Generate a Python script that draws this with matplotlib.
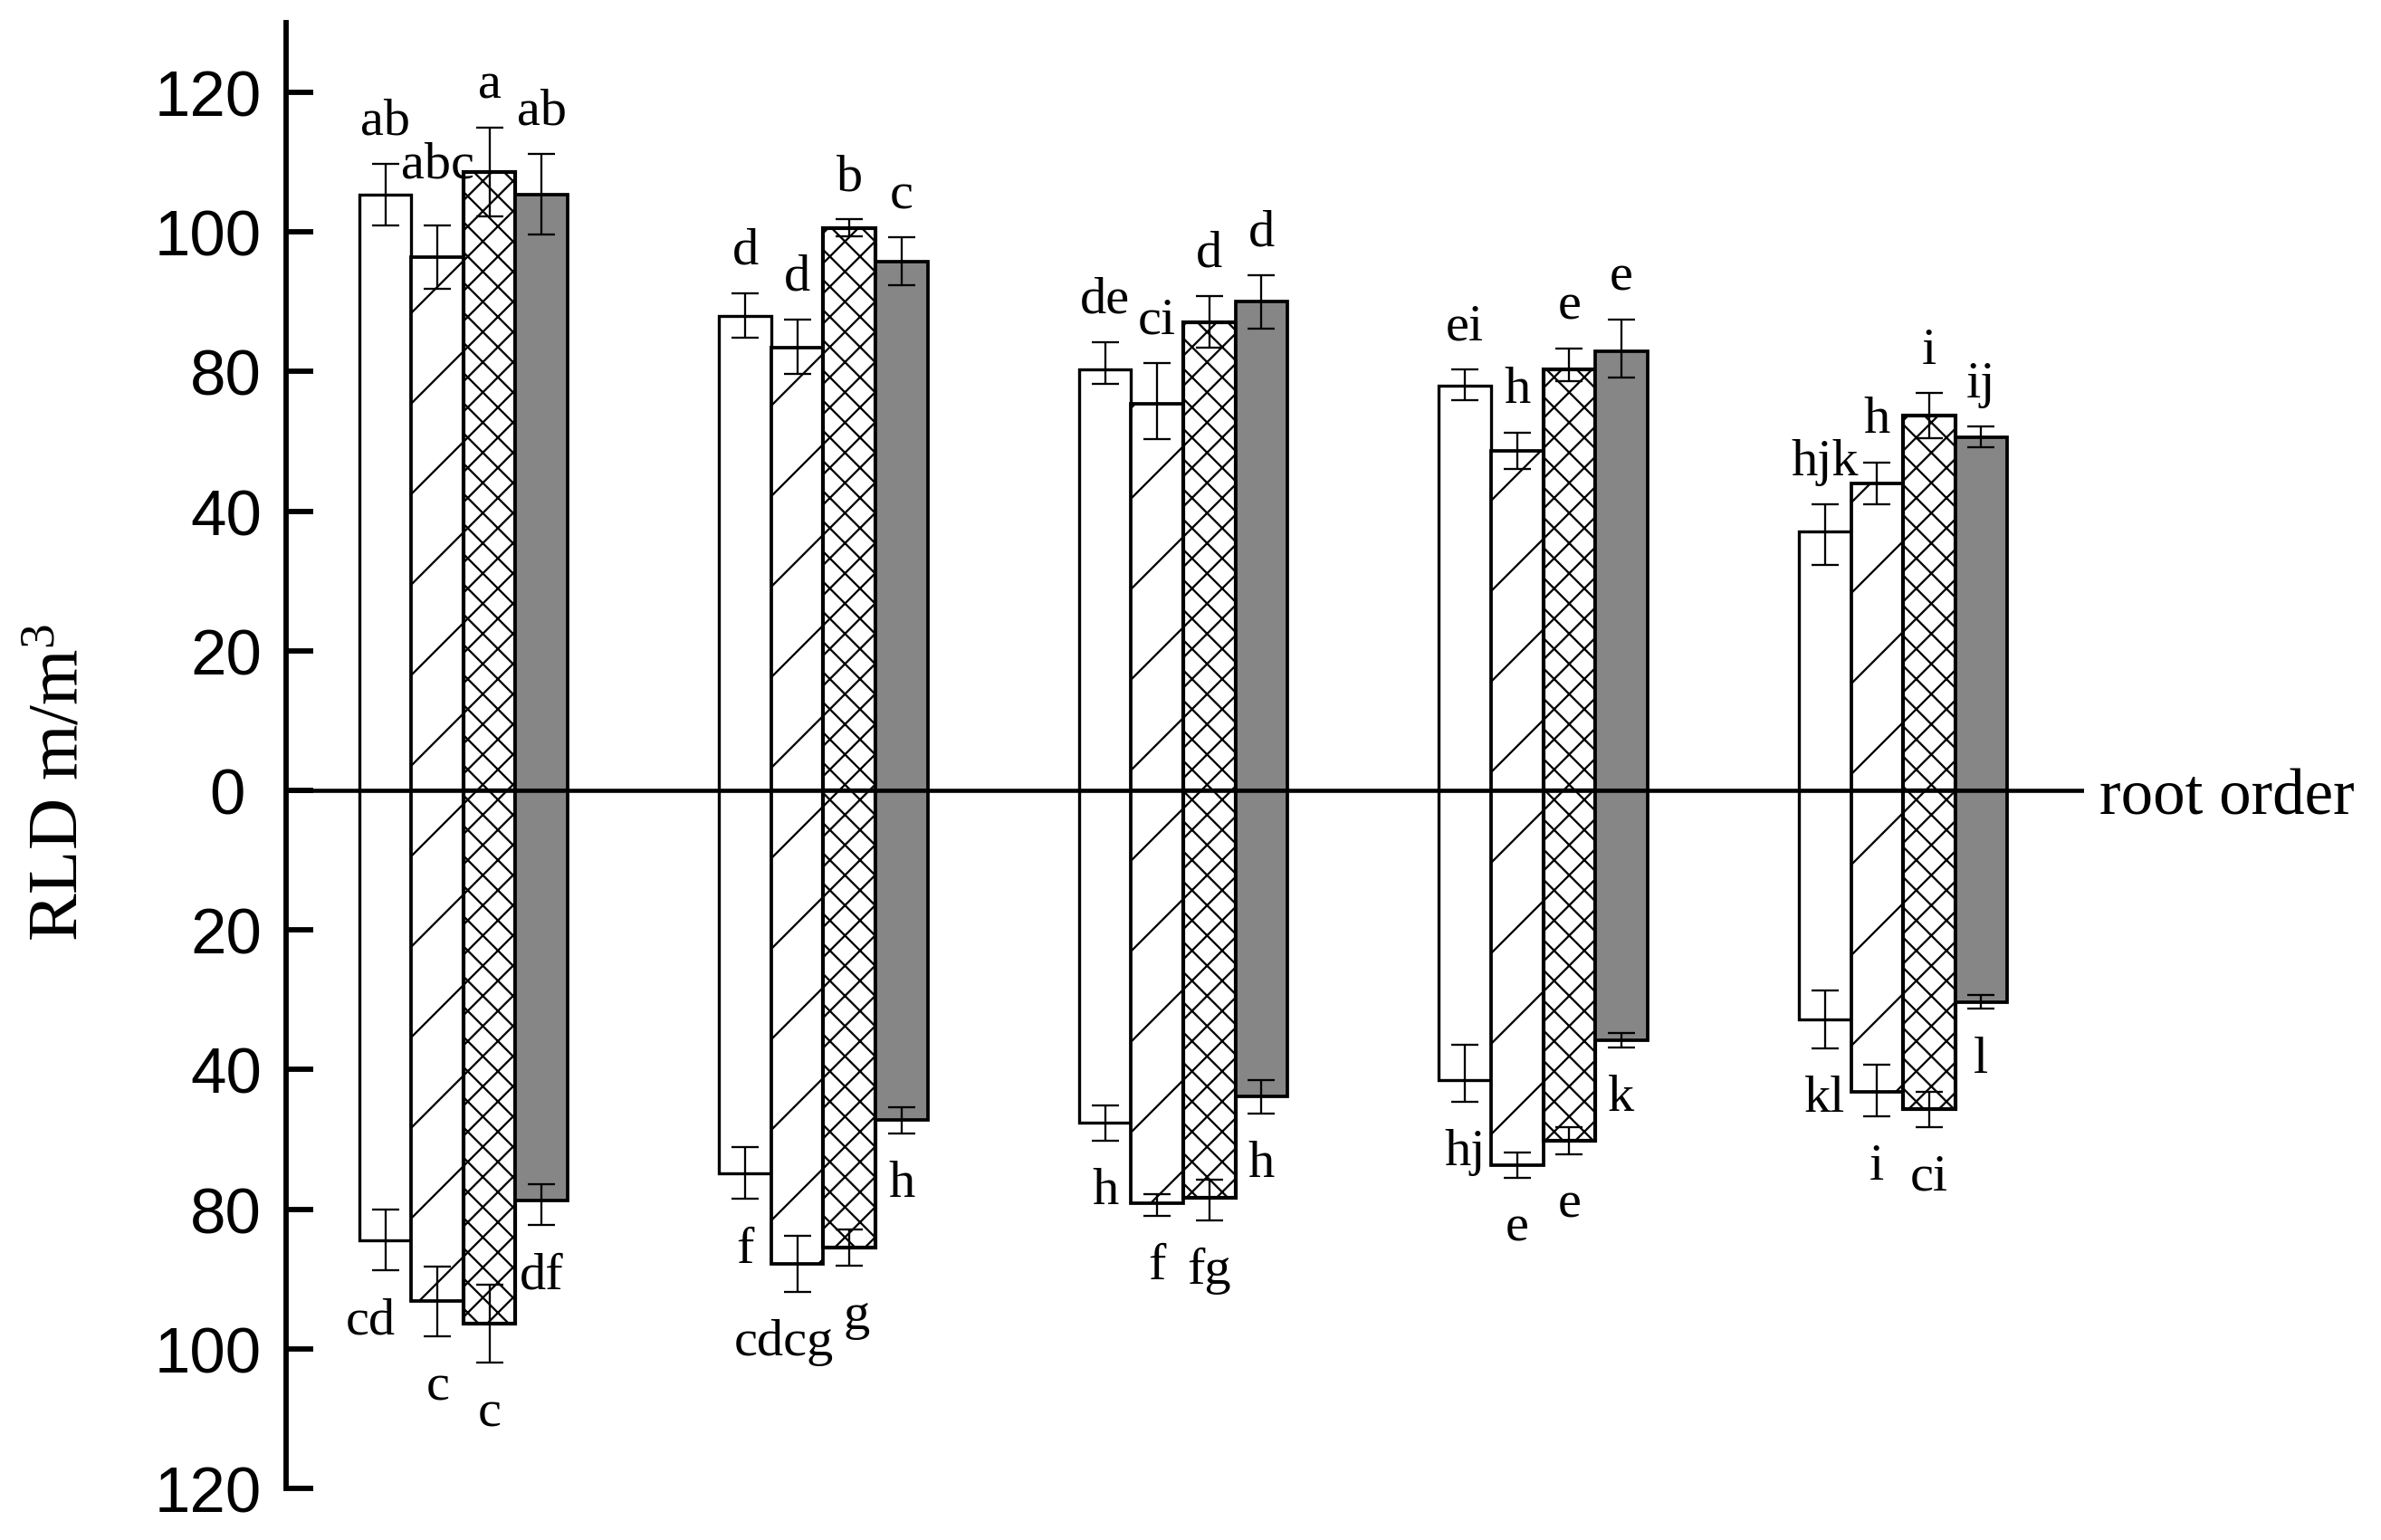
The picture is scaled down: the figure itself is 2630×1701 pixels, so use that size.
import numpy as np
import matplotlib
matplotlib.use('Agg')
import matplotlib.pyplot as plt
import matplotlib.transforms as mtransforms

# ---------------- data ----------------
root_orders = [1, 2, 3, 4, 5]
treatments = ['T1', 'T2', 'T3', 'T4']

# upper half (values as read against the printed tick labels)
white_up = [105.4, 88.0, 80.3, 76.1, 37.1]
hatch_up = [96.4, 83.4, 70.9, 57.4, 48.0]
cross_up = [108.6, 100.6, 87.1, 80.3, 67.3]
gray_up = [105.4, 95.8, 90.0, 82.9, 61.3]

white_up_err = [4.4, 3.2, 3.9, 4.2, 4.8]
hatch_up_err = [4.5, 4.1, 10.3, 5.2, 6.0]
cross_up_err = [6.4, 1.2, 3.7, 3.0, 6.5]
gray_up_err = [5.8, 3.4, 3.8, 4.6, 2.9]

# lower half (magnitudes, drawn downward)
white_lo = [84.4, 69.7, 55.3, 42.9, 32.8]
hatch_lo = [93.2, 87.8, 78.4, 67.3, 46.3]
cross_lo = [96.4, 85.5, 76.6, 60.4, 51.4]
gray_lo = [77.6, 54.5, 47.8, 35.8, 30.3]

white_lo_err = [4.4, 7.4, 5.0, 6.4, 4.2]
hatch_lo_err = [5.0, 4.0, 2.6, 3.6, 7.0]
cross_lo_err = [5.6, 2.6, 5.0, 3.8, 5.0]
gray_lo_err = [4.7, 3.7, 4.7, 1.0, 1.0]

white_up_lbl = ['ab', 'd', 'de', 'ei', 'hjk']
hatch_up_lbl = ['abc', 'd', 'ci', 'h', 'h']
cross_up_lbl = ['a', 'b', 'd', 'e', 'i']
gray_up_lbl = ['ab', 'c', 'd', 'e', 'ij']

white_lo_lbl = ['cd', 'f', 'h', 'hj', 'kl']
hatch_lo_lbl = ['c', 'cdcg', 'f', 'e', 'i']
cross_lo_lbl = ['c', 'g', 'fg', 'e', 'ci']
gray_lo_lbl = ['df', 'h', 'h', 'k', 'l']

# printed tick labels (the axis is evenly spaced between them)
tick_label_values = [0, 20, 40, 80, 100, 120]

# ---------------- figure ----------------
DPI = 300
fig = plt.figure(figsize=(2630 / DPI, 1702 / DPI), dpi=DPI)
plt.rcParams['hatch.linewidth'] = 0.55
plt.rcParams['mathtext.fontset'] = 'custom'
plt.rcParams['mathtext.rm'] = 'Liberation Serif'
plt.rcParams['mathtext.it'] = 'Liberation Serif:italic'
ax = fig.add_axes([316 / 2630, 57 / 1702, (2302 - 316) / 2630, 1619 / 1702])

L = np.array(tick_label_values + [140], dtype=float)
P = np.arange(len(L), dtype=float)


def fwd(v):
    v = np.asarray(v, dtype=float)
    return np.sign(v) * np.interp(np.abs(v), L, P)


def inv(p):
    p = np.asarray(p, dtype=float)
    return np.sign(p) * np.interp(np.abs(p), P, L)


ax.set_yscale('function', functions=(fwd, inv))

x = np.arange(len(root_orders), dtype=float)
w = 0.1447
offsets = np.array([-1.5, -0.5, 0.5, 1.5]) * w

# small manual nudges of letter labels (points): (series, group, half) -> (dx, dy)
nudges = {(1, 0, 'up'): (0, 5), (0, 0, 'lo'): (-4, 0),
          (1, 1, 'lo'): (-3.5, 0), (2, 1, 'lo'): (2, 0)}

series = [
    (white_up, white_up_err, white_lo, white_lo_err, white_up_lbl, white_lo_lbl,
     dict(facecolor='white', hatch=None, lw=0.8)),
    (hatch_up, hatch_up_err, hatch_lo, hatch_lo_err, hatch_up_lbl, hatch_lo_lbl,
     dict(facecolor='white', hatch='/', lw=0.9)),
    (cross_up, cross_up_err, cross_lo, cross_lo_err, cross_up_lbl, cross_lo_lbl,
     dict(facecolor='white', hatch='xxx', lw=1.0)),
    (gray_up, gray_up_err, gray_lo, gray_lo_err, gray_up_lbl, gray_lo_lbl,
     dict(facecolor='#868686', hatch=None, lw=0.9)),
]

for k, (up, upe, lo, loe, ulb, llb, st) in enumerate(series):
    xs = x + offsets[k]
    up = np.array(up); upe = np.array(upe)
    lo = np.array(lo); loe = np.array(loe)
    for vals in (up, -lo):
        ax.bar(xs, vals, width=w, facecolor=st['facecolor'], edgecolor='black',
               linewidth=st['lw'], hatch=st['hatch'], zorder=2)
    ax.errorbar(xs, up, yerr=upe, fmt='none', ecolor='black', elinewidth=0.55,
                capsize=3.6, capthick=0.55, zorder=3)
    ax.errorbar(xs, -lo, yerr=loe, fmt='none', ecolor='black', elinewidth=0.55,
                capsize=3.6, capthick=0.55, zorder=3)
    for g, (xi, v, e, t) in enumerate(zip(xs, up, upe, ulb)):
        dx, dy = nudges.get((k, g, 'up'), (0, 0))
        ax.annotate(t, (xi, v + e), xytext=(dx, 8 + dy), textcoords='offset points',
                    ha='center', va='baseline', fontsize=14,
                    family='Liberation Serif', zorder=4)
    for g, (xi, v, e, t) in enumerate(zip(xs, lo, loe, llb)):
        dx, dy = nudges.get((k, g, 'lo'), (0, 0))
        ax.annotate(t, (xi, -(v + e)), xytext=(dx, -7 + dy), textcoords='offset points',
                    ha='center', va='top', fontsize=14,
                    family='Liberation Serif', zorder=4)

ax.axhline(0, color='black', lw=1.1, zorder=5)

ax.set_xlim(-0.493, 4.503)
ax.set_ylim(-120, 130)

ticks = [-v for v in tick_label_values[:0:-1]] + tick_label_values
ax.set_yticks(ticks)
ax.set_yticklabels([str(abs(t)) for t in ticks], family='Liberation Sans', fontsize=17)
ax.yaxis.set_minor_locator(matplotlib.ticker.NullLocator())
ax.tick_params(axis='y', direction='in', length=7.2, width=1.4, pad=6.5)
ax.set_xticks([])

for s in ('top', 'right', 'bottom'):
    ax.spines[s].set_visible(False)
ax.spines['left'].set_linewidth(1.4)
ax.spines['left'].set_bounds(-120, 130)

# the "0" label sits a little further left in the reference
for tk, tv in zip(ax.yaxis.get_major_ticks(), ticks):
    if tv == 0:
        tk.label1.set_transform(tk.label1.get_transform() +
                                mtransforms.ScaledTranslation(-18 / DPI, 0, fig.dpi_scale_trans))

ax.annotate('root order', xy=(1, 0), xycoords=('axes fraction', 'data'),
            xytext=(4, 0), textcoords='offset points', ha='left',
            va='center_baseline', fontsize=17, family='Liberation Serif',
            annotation_clip=False)

fig.text(67 / 2630, 1 - 864 / 1702, r'RLD m/m$^{3}$', rotation=90,
         ha='center', va='center', fontsize=19, family='Liberation Serif')

fig.savefig('out.png', dpi=DPI, facecolor='white')
